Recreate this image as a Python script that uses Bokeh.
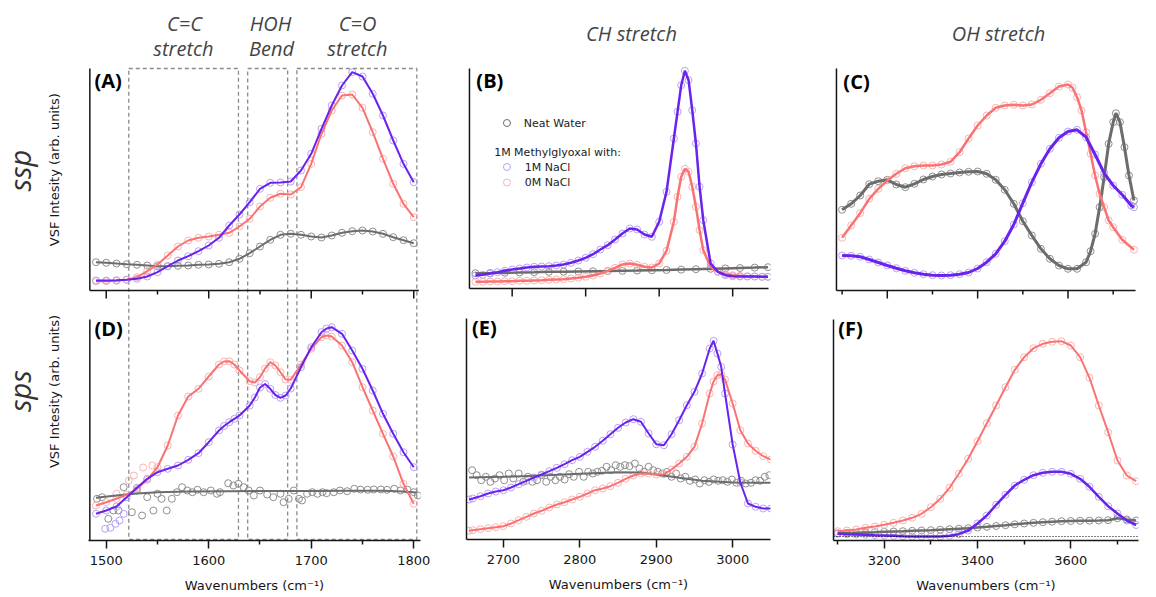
import math
from bokeh.plotting import figure
from bokeh.layouts import row, column
from bokeh.models import Range1d, FixedTicker, Span
from bokeh.core.properties import value
from bokeh.embed import file_html
from bokeh.resources import INLINE

# ===================== DATA (arb. units) =====================
# ---- Panel A : ssp, C=C / HOH / C=O region ----
A_WN = [1490, 1500, 1510, 1520, 1530, 1540, 1550, 1560, 1570, 1580, 1590, 1600, 1610, 1620, 1630, 1640,
        1650, 1660, 1670, 1680, 1690, 1700, 1710, 1720, 1730, 1740, 1750, 1760, 1770, 1780, 1790, 1800]
A_1M = [10, 10, 10.3, 10.7, 11.7, 14, 18.3, 24.3, 30, 34.3, 39.3, 45, 52.7, 65, 76, 88.3,
        101.7, 107.7, 108, 109, 120, 136.7, 161.7, 185, 205, 218.3, 214, 196.7, 175, 150, 126.7, 108.3]
A_0M = [9.3, 9.3, 9.7, 10.7, 13.3, 19.3, 26, 35, 44, 50, 52.7, 54, 55.7, 57.7, 64, 71.7,
        84, 92.7, 96.7, 96, 103.3, 126.7, 156.7, 180, 195, 196, 182.7, 158.3, 131.7, 106.7, 86.7, 73.3]
A_WATER = [28.3, 27.7, 27, 26.3, 25.7, 25, 24.3, 24.3, 24.7, 25, 25.7, 26, 26.7, 28.3, 31.7, 37.3,
           44, 50.7, 55.7, 56.7, 55.7, 54, 53, 55, 57.7, 59.3, 60, 59, 56.7, 53.3, 50.3, 47.3]

# ---- Panel D : sps, same region ----
D_WN = [1490, 1500, 1510, 1520, 1530, 1540, 1550, 1560, 1570, 1580, 1590, 1600, 1610, 1615, 1620, 1625,
        1630, 1640, 1645, 1650, 1655, 1660, 1665, 1670, 1675, 1680, 1690, 1700, 1710, 1715, 1720, 1730,
        1740, 1750, 1760, 1770, 1780, 1790, 1800]
D_1M = [26.7, 30, 34, 43.3, 52.7, 61.7, 68.3, 71.7, 75, 80.7, 87.3, 98.3, 110, 114.5, 118.3, 121.7,
        125, 135, 143, 153, 156.5, 151.7, 145.5, 142.7, 145, 152, 173.3, 193.3, 208.3, 212, 213.3, 206.7,
        190, 171.7, 150, 126.7, 106.7, 88.3, 73.3]
D_0M = [35, 38.3, 41.7, 46, 51.7, 60.7, 73.3, 95, 125, 144, 151.7, 164, 176, 179, 179.3, 176,
        170, 159.3, 158, 163.3, 172, 178.3, 175, 168.3, 161, 160.7, 176, 191.7, 203.3, 205, 204, 195,
        178.3, 153.3, 130, 106.7, 84, 56.7, 36.7]
D_1M_EXTRA_WN = [1499, 1504, 1509, 1513, 1517]
D_1M_EXTRA = [11.7, 12.7, 16.7, 20, 26.7]
D_0M_EXTRA_WN = [1510, 1522, 1527, 1536, 1545]
D_0M_EXTRA = [46.7, 60, 65, 73, 75]
D_WATER_FIT_WN = [1490, 1510, 1530, 1550, 1580, 1620, 1660, 1700, 1740, 1770, 1790, 1803]
D_WATER_FIT = [42.7, 45, 47, 48.3, 49, 49.3, 49.5, 49.5, 49.7, 49.7, 49, 48]
D_WATER_WN = [1491, 1496, 1502, 1507, 1512, 1517, 1525, 1530, 1535, 1540, 1546, 1550, 1554, 1559, 1564,
              1569, 1574, 1579, 1584, 1589, 1595, 1602, 1608, 1611, 1619, 1624, 1629, 1634, 1639, 1644,
              1650, 1657, 1663, 1670, 1673, 1678, 1683, 1688, 1691, 1696, 1701, 1706, 1711, 1715, 1722,
              1728, 1735, 1742, 1748, 1755, 1761, 1768, 1774, 1781, 1787, 1794, 1800, 1804]
D_WATER = [41.7, 43.3, 21.7, 30, 30, 53.3, 28.3, 50, 25, 43.3, 30, 46.7, 41.7, 30, 41.7,
           48.3, 53.3, 50, 48.3, 50.7, 48.3, 50, 46.7, 48.3, 57.3, 55, 56.7, 53.3, 50, 45,
           50, 46, 43.3, 46.7, 38.3, 41.7, 50, 41.7, 40, 46.7, 48.3, 46.7, 48.3, 47.3, 48.3,
           50, 49.3, 51.7, 51, 50.7, 51, 51, 50.7, 51.7, 50, 50.7, 48.3, 45]

# ---- Panel B : ssp, CH stretch ----
B_WN = [2650, 2660, 2670, 2680, 2690, 2700, 2710, 2720, 2730, 2740, 2750, 2760, 2770, 2780, 2790, 2800,
        2810, 2820, 2830, 2840, 2850, 2860, 2870, 2880, 2890, 2900, 2910, 2920, 2925, 2930, 2935, 2940,
        2945, 2950, 2955, 2960, 2970, 2980, 2990, 3000, 3010, 3020, 3030, 3040, 3048]
B_1M = [13, 13.7, 15, 16.3, 17.7, 19, 20, 21, 21.7, 22, 22.3, 23, 24, 25.7, 28, 30.7,
        34.3, 39, 43.3, 49, 55, 60, 59, 54, 51.7, 66.7, 96.7, 150, 176.7, 203.3, 217.7, 208.3,
        178.3, 145, 101.7, 68.3, 25, 16.7, 13.3, 12.3, 12, 12, 12, 11.7, 11.7]
B_0M = [6.7, 6.7, 7, 7, 7.3, 7.3, 7.7, 7.7, 8, 8.3, 8.7, 9, 9.3, 10, 10.7, 11.7,
        13, 15, 17.7, 20.7, 24, 25, 23.7, 21.7, 21, 25, 37.7, 66.7, 91.7, 111.7, 119.7, 116.7,
        101.7, 81.7, 58.3, 38.3, 21.7, 16.7, 14.3, 13.3, 12.7, 12.3, 12, 11.7, 11.7]
B_WATER_WN = [2650, 2670, 2690, 2710, 2730, 2750, 2770, 2790, 2810, 2830, 2850, 2870, 2890, 2910,
              2930, 2950, 2970, 2990, 3010, 3030, 3048]
B_WATER = [15.3, 15.5, 15.8, 16, 16.3, 16.7, 16.8, 17, 17.2, 17.4, 17.7, 17.9, 18.2, 18.5,
           18.9, 19.3, 19.7, 20.1, 20.5, 20.9, 21.3]

# ---- Panel E : sps, CH stretch ----
E_WN = [2655, 2660, 2670, 2680, 2690, 2700, 2710, 2720, 2730, 2740, 2750, 2760, 2770, 2780, 2790, 2800,
        2810, 2820, 2830, 2840, 2850, 2860, 2870, 2880, 2890, 2900, 2910, 2920, 2930, 2940, 2950, 2960,
        2970, 2975, 2980, 2985, 2990, 3000, 3010, 3020, 3030, 3040, 3050]
E_1M = [40, 41, 43.3, 46, 48, 49.3, 52, 55.3, 58.7, 62, 65, 68.3, 71.7, 75.3, 79.3, 82.7,
        87.7, 92.7, 98.7, 105.3, 111.7, 117, 120.3, 117.7, 106, 95.3, 94.3, 105.3, 119.3, 134.3, 147.7, 166,
        191, 198.7, 186, 172.7, 146, 95, 57, 36, 32.7, 31, 31]
E_0M = [8.7, 9.3, 10.3, 11.3, 12.3, 13.3, 16, 19.3, 22.7, 26, 28.7, 32, 35, 37.3, 40, 42.7,
        46, 49.3, 51, 53.3, 56.7, 60.7, 64, 66, 66, 65, 65.3, 70, 76, 82.7, 92.7, 116,
        146, 158, 164.3, 165.3, 160, 136, 109.3, 96, 88.7, 83.3, 80]
E_WATER_FIT_WN = [2655, 2700, 2750, 2800, 2850, 2880, 2900, 2930, 2960, 3000, 3050]
E_WATER_FIT = [62, 62.7, 64, 65.7, 67.3, 67, 65, 61.7, 58.7, 57, 56.7]
E_WATER_WN = [2659, 2665, 2671, 2677, 2683, 2689, 2695, 2701, 2707, 2713, 2720, 2726, 2732, 2738, 2744,
              2750, 2756, 2762, 2768, 2774, 2780, 2786, 2792, 2799, 2805, 2811, 2817, 2823, 2829, 2835,
              2841, 2847, 2853, 2859, 2865, 2872, 2878, 2884, 2890, 2896, 2902, 2908, 2914, 2920, 2926,
              2932, 2938, 2944, 2951, 2957, 2963, 2969, 2975, 2981, 2987, 2993, 2999, 3005, 3011, 3017,
              3024, 3030, 3036, 3042, 3048]
E_WATER = [69.3, 64.3, 59.3, 62.7, 57.7, 61, 64.3, 59.3, 66, 61, 66, 57.7, 62.7, 57.7, 59.3,
           64.3, 57.7, 62.7, 59.3, 62.7, 60, 65.3, 62.7, 67.7, 62.7, 67.7, 66, 67.7, 68.7, 72.7,
           69.3, 74.3, 72.7, 74.3, 73.3, 76, 71, 67.7, 72.7, 69.3, 67.7, 66, 67.7, 62.7, 66,
           61, 62.7, 58.7, 60, 56, 59.3, 57.7, 60, 58.7, 59.3, 57.7, 60, 56.7, 58.7, 56,
           56.7, 59.3, 58.7, 62.7, 64.3]

# ---- Panel C : ssp, OH stretch ----
C_1M_WN = [3100, 3120, 3140, 3160, 3180, 3200, 3220, 3240, 3260, 3280, 3300, 3320, 3340, 3360, 3380, 3400,
           3420, 3440, 3460, 3480, 3500, 3520, 3540, 3560, 3580, 3600, 3620, 3640, 3660, 3680, 3700, 3720,
           3740, 3746]
C_1M = [35, 34.7, 33.7, 31, 28, 25, 22.3, 19.7, 17.7, 16.3, 15.3, 15, 15.3, 16.3, 18, 22,
        28.3, 36.7, 49.3, 66, 87.3, 108.3, 126.7, 141.7, 152.7, 159, 160.7, 153.3, 136, 117.3, 105, 95.7,
        85, 83.3]
C_0M_WN = [3100, 3120, 3140, 3160, 3180, 3200, 3220, 3240, 3260, 3280, 3300, 3320, 3340, 3360, 3380, 3400,
           3420, 3440, 3460, 3480, 3500, 3520, 3540, 3560, 3580, 3600, 3610, 3620, 3630, 3640, 3650, 3660,
           3670, 3680, 3690, 3700, 3720, 3746]
C_0M = [52.7, 65, 77.3, 91.7, 101.7, 110, 116.7, 122.3, 124.3, 125, 125, 126, 128.7, 138.3, 152, 165,
        175, 182.7, 185, 185.7, 185, 186, 190.7, 197.3, 204, 206, 202.7, 193.3, 180, 158.3, 136.7, 115,
        96.7, 83.3, 70, 63.3, 50.7, 40.7]
C_WATER_WN = [3100, 3120, 3140, 3160, 3180, 3200, 3220, 3240, 3260, 3280, 3300, 3320, 3340, 3360, 3380, 3400,
              3420, 3440, 3460, 3480, 3500, 3520, 3540, 3560, 3580, 3600, 3620, 3640, 3650, 3660, 3670, 3680,
              3690, 3700, 3706, 3715, 3725, 3735, 3746]
C_WATER = [80.7, 86.7, 95, 106.3, 109.3, 110.7, 106, 103.3, 106.7, 111, 114, 116, 117, 118, 118.7, 119,
           116.7, 110.7, 100.7, 86.7, 69.3, 55, 41.7, 31.7, 25, 21.7, 21.7, 28.3, 39.3, 56.7, 83.3, 113.3,
           146.7, 168.3, 177.3, 168.3, 143.3, 115, 90]

# ---- Panel F : sps, OH stretch ----
F_WN = [3100, 3120, 3140, 3160, 3180, 3200, 3220, 3240, 3260, 3280, 3300, 3320, 3340, 3360, 3380, 3400,
        3420, 3440, 3460, 3480, 3500, 3520, 3540, 3560, 3580, 3600, 3620, 3640, 3660, 3680, 3700, 3720, 3740]
F_1M = [6.7, 6.3, 6, 5.7, 5.3, 5, 4.7, 4.3, 4, 4, 4, 4, 4.7, 6.3, 10, 17,
        25, 35.7, 45.7, 55, 60.7, 65.3, 67.7, 68.7, 68.7, 66.7, 61.7, 53.7, 43.7, 34.3, 27, 20, 15.5]
F_0M = [9.3, 10, 11, 12.7, 14, 15.7, 17.7, 20, 22.7, 26.7, 33.3, 41.7, 52.7, 66.7, 81.7, 99.3,
        117.3, 135, 153.3, 170.7, 183.3, 192.3, 196.7, 198.7, 199.3, 195, 183.3, 162.7, 135, 108.3, 80, 65, 59.3]
F_WATER = [7.3, 7.5, 7.7, 8, 8.3, 8.7, 9, 9.3, 9.7, 10, 10.3, 10.8, 11.3, 11.8, 12.3, 13,
           13.7, 14.5, 15.3, 16.2, 17, 17.7, 18.3, 18.8, 19.3, 19.5, 19.7, 19.8, 20, 20.3, 22.3, 21, 20]
F_ZERO = 4

# ---- ticks, region boxes, labels ----
AD_MAJOR = [1500, 1600, 1700, 1800]
AD_MINOR = [1550, 1650, 1750]
CH_MAJOR = [2700, 2800, 2900, 3000]
OH_MAJOR = [3200, 3400, 3600]
OH_MINOR = [3100, 3300, 3500, 3700]
BOX_LEFT = [1522, 1638, 1686]
BOX_RIGHT = [1629, 1677, 1803]
XLABEL = "Wavenumbers (cm\u207b\u00b9)"
YLABEL = "VSF Intesity (arb. units)"
LEGEND = ["Neat Water", "1M Methylglyoxal with:", "1M NaCl", "0M NaCl"]

# ===================== STYLE =====================
PURPLE, PURPLE_MK = "#6a22ee", "#b6a2f3"
RED, RED_MK = "#fb7272", "#f7b4b4"
GRAY, GRAY_MK = "#6c6c6c", "#8e8e8e"
AX = "#151515"
SMALL_FONT = "DejaVu Sans"
BIG_FONT = "Open Sans"

# frame geometry (global px): axis-origin px, x at that px, px per cm-1, x-axis px (from top)
XB0, XB1 = 2641.9, 3048.8
XE0, XE1 = 2651.7, 3049.5
XC0, XC1 = 3087.5, 3749.5
XF0, XF1 = 3091.3, 3745.1
XL0, XL1 = 1482.7, 1806.6
FR = {"L": (88, XL0, 1.025, 540), "B": (465, XB0, 0.7447, 288), "E": (466, XE0, 0.8221, 539),
      "C": (832, XC0, 0.4577, 290), "F": (833, XF0, 0.494, 540)}


def gx(k, px):
    fx, x0, kx, fb = FR[k]
    return x0 + (px - fx) / kx


def gy(k, py):
    return FR[k][3] - py


def new_fig(w, h, xr, yr, left, right, top, bottom, xaxis=True, yaxis=True):
    p = figure(width=w, height=h, x_range=Range1d(*xr), y_range=Range1d(*yr),
               x_axis_location="below" if xaxis else None,
               y_axis_location="left" if yaxis else None,
               output_backend="svg", toolbar_location=None,
               min_border_left=left, min_border_right=right,
               min_border_top=top, min_border_bottom=bottom)
    p.grid.visible = False
    p.outline_line_color = None
    p.background_fill_color = "white"
    p.border_fill_color = "white"
    return p


def style_x(p, major, minor):
    ax = p.xaxis[0]
    ax.ticker = FixedTicker(ticks=major, minor_ticks=minor)
    ax.axis_line_color = AX
    ax.axis_line_width = 1.5
    ax.major_tick_line_color = AX
    ax.major_tick_line_width = 1.5
    ax.minor_tick_line_color = AX
    ax.minor_tick_line_width = 1.5
    ax.major_tick_in = 0
    ax.major_tick_out = 8
    ax.minor_tick_in = 0
    ax.minor_tick_out = 4
    ax.major_label_text_font = SMALL_FONT
    ax.major_label_text_font_size = "13px"
    ax.major_label_text_color = AX
    ax.major_label_standoff = 7
    ax.axis_label = XLABEL
    ax.axis_label_text_font = SMALL_FONT
    ax.axis_label_text_font_size = "13px"
    ax.axis_label_text_font_style = "normal"
    ax.axis_label_text_color = AX
    ax.axis_label_standoff = 10


def style_y(p):
    ay = p.yaxis[0]
    ay.ticker = FixedTicker(ticks=[])
    ay.axis_line_color = AX
    ay.axis_line_width = 1.5


def inner_axes(p, x0, x1, ytop, major, minor, yr="default"):
    """Axis lines + outward ticks of a panel whose x axis has no labels."""
    kw = dict(line_color=AX, line_width=1.5, y_range_name=yr)
    p.segment(x0=[x0], y0=[0], x1=[x1], y1=[0], **kw)
    p.segment(x0=[x0], y0=[0], x1=[x0], y1=[ytop], **kw)
    p.segment(x0=major, y0=[0] * len(major), x1=major, y1=[-8] * len(major), **kw)
    if minor:
        p.segment(x0=minor, y0=[0] * len(minor), x1=minor, y1=[-4] * len(minor), **kw)


def markers(p, x, y, color, yr="default"):
    p.scatter(x, y, marker="circle", size=7, fill_color=None, line_color=color,
              line_width=1, y_range_name=yr)


def fit(p, x, y, color, lw, yr="default"):
    p.line(x, y, line_color=color, line_width=lw, y_range_name=yr)


def letter(p, x, y, t):
    p.text(x=[x], y=[y], text=[t], text_font=value(BIG_FONT), text_font_style="bold",
           text_font_size="20px", text_color="black", text_align="left", text_baseline="alphabetic")


# ===================== HEADER =====================
pH = new_fig(1156, 64, (0, 1156), (0, 64), 0, 0, 0, 0, xaxis=False, yaxis=False)
H_TXT = ["C=C", "stretch", "HOH", "Bend", "C=O", "stretch", "CH stretch", "OH stretch"]
H_X = [184, 183, 270, 271, 357, 357, 631, 998]
H_Y = [23, 48, 23, 48, 23, 48, 33, 33]
pH.text(x=H_X, y=[64 - b for b in H_Y], text=H_TXT, text_font=value(BIG_FONT),
        text_font_style="italic", text_font_size="20px", text_color="#444444",
        text_align="center", text_baseline="alphabetic")

# ===================== LEFT LABELS =====================
pLab = new_fig(88, 533, (0, 88), (0, 533), 0, 0, 0, 0, xaxis=False, yaxis=False)
pLab.text(x=[19, 19], y=[597 - 181, 597 - 429], text=["ssp", "sps"], angle=math.pi / 2,
          text_font=value(BIG_FONT), text_font_style="italic", text_font_size="29px",
          text_color="#333333", text_align="center", text_baseline="alphabetic")
pLab.text(x=[54, 54], y=[597 - 180, 597 - 429.5], text=[YLABEL, YLABEL], angle=math.pi / 2,
          text_font=value(SMALL_FONT), text_font_size="13px", text_color=AX,
          text_align="center", text_baseline="alphabetic")

# ===================== LEFT COLUMN (A over D) =====================
pL = new_fig(344, 533, (XL0, XL1), (0, 474), 0, 12, 2, 57, xaxis=True, yaxis=False)
pL.extra_y_ranges = {"A": Range1d(-250, 224), "D": Range1d(0, 474)}
style_x(pL, AD_MAJOR, AD_MINOR)

pL.quad(left=BOX_LEFT, right=BOX_RIGHT, bottom=[1] * 3, top=[472] * 3, fill_color=None,
        line_color="#8a8a8a", line_width=1.3, line_dash="4 3")
inner_axes(pL, 1484, 1805, 222, AD_MAJOR, AD_MINOR, "A")
pL.segment(x0=[1484], y0=[0], x1=[1484], y1=[221], line_color=AX, line_width=1.5, y_range_name="D")

markers(pL, A_WN, A_WATER, GRAY_MK, "A")
markers(pL, A_WN, A_0M, RED_MK, "A")
markers(pL, A_WN, A_1M, PURPLE_MK, "A")
fit(pL, A_WN, A_WATER, GRAY, 2, "A")
fit(pL, A_WN, A_0M, RED, 2, "A")
fit(pL, A_WN, A_1M, PURPLE, 2, "A")

markers(pL, D_WATER_WN, D_WATER, GRAY_MK, "D")
markers(pL, D_WN + D_0M_EXTRA_WN, D_0M + D_0M_EXTRA, RED_MK, "D")
markers(pL, D_WN + D_1M_EXTRA_WN, D_1M + D_1M_EXTRA, PURPLE_MK, "D")
fit(pL, D_WATER_FIT_WN, D_WATER_FIT, GRAY, 2, "D")
fit(pL, D_WN, D_0M, RED, 2, "D")
fit(pL, D_WN, D_1M, PURPLE, 2, "D")

letter(pL, gx("L", 94), gy("L", 80), "(A)")
letter(pL, gx("L", 94), gy("L", 327.5), "(D)")

# ===================== B (no axis objects: lines drawn inside an enlarged frame) =====================
pB = new_fig(368, 239, (gx("B", 462), gx("B", 770)), (-15, 224), 30, 30, 0, 0, xaxis=False, yaxis=False)
inner_axes(pB, XB0, XB1, 220, CH_MAJOR, [])
markers(pB, B_WATER_WN, B_WATER, GRAY_MK)
markers(pB, B_WN, B_0M, RED_MK)
markers(pB, B_WN, B_1M, PURPLE_MK)
fit(pB, B_WATER_WN, B_WATER, GRAY, 2.5)
fit(pB, B_WN, B_0M, RED, 2.5)
fit(pB, B_WN, B_1M, PURPLE, 2.5)
letter(pB, gx("B", 472), gy("B", 80), "(B)")
# legend
pB.scatter(x=[gx("B", 503)] * 3, y=[gy("B", 122.5), gy("B", 166.5), gy("B", 182)], marker="circle",
           size=7, fill_color=None, line_color=[GRAY, PURPLE_MK, RED_MK], line_width=1)
pB.text(x=[gx("B", 520), gx("B", 490), gx("B", 521), gx("B", 521)],
        y=[gy("B", 122.5), gy("B", 152), gy("B", 166.5), gy("B", 182)], text=LEGEND,
        text_font=value(SMALL_FONT), text_font_size="11px", text_color="#222222",
        text_align="left", text_baseline="middle")

# ===================== E =====================
pE = new_fig(368, 294, (XE0, XE1), (0, 221), 34, 7, 15, 58)
style_x(pE, CH_MAJOR, [])
style_y(pE)
markers(pE, E_WATER_WN, E_WATER, GRAY_MK)
markers(pE, E_WN, E_0M, RED_MK)
markers(pE, E_WN, E_1M, PURPLE_MK)
fit(pE, E_WATER_FIT_WN, E_WATER_FIT, GRAY, 2)
fit(pE, E_WN, E_0M, RED, 2)
fit(pE, E_WN, E_1M, PURPLE, 2)
letter(pE, gx("E", 472), gy("E", 327), "(E)")

# ===================== C (no axis objects) =====================
pC = new_fig(356, 240, (gx("C", 829), gx("C", 1138)), (-14, 226), 29, 18, 0, 0, xaxis=False, yaxis=False)
inner_axes(pC, XC0, XC1, 222, OH_MAJOR, OH_MINOR)
markers(pC, C_WATER_WN, C_WATER, GRAY_MK)
markers(pC, C_0M_WN, C_0M, RED_MK)
markers(pC, C_1M_WN, C_1M, PURPLE_MK)
fit(pC, C_WATER_WN, C_WATER, GRAY, 3)
fit(pC, C_0M_WN, C_0M, RED, 2.5)
fit(pC, C_1M_WN, C_1M, PURPLE, 3)
letter(pC, gx("C", 839), gy("C", 80.5), "(C)")

# ===================== F =====================
pF = new_fig(356, 293, (XF0, XF1), (0, 221), 33, 0, 15, 57)
style_x(pF, OH_MAJOR, OH_MINOR)
style_y(pF)
pF.add_layout(Span(location=F_ZERO, dimension="width", line_color="black", line_dash="1 2", line_width=1))
markers(pF, F_WN, F_WATER, GRAY_MK)
markers(pF, F_WN, F_0M, RED_MK)
markers(pF, F_WN, F_1M, PURPLE_MK)
fit(pF, F_WN, F_WATER, GRAY, 2.5)
fit(pF, F_WN, F_0M, RED, 2)
fit(pF, F_WN, F_1M, PURPLE, 2.5)
letter(pF, gx("F", 838), gy("F", 328), "(F)")

layout = column(pH, row(pLab, pL, column(pB, pE), column(pC, pF)))

open("out.html", "w").write(file_html(layout, INLINE))
